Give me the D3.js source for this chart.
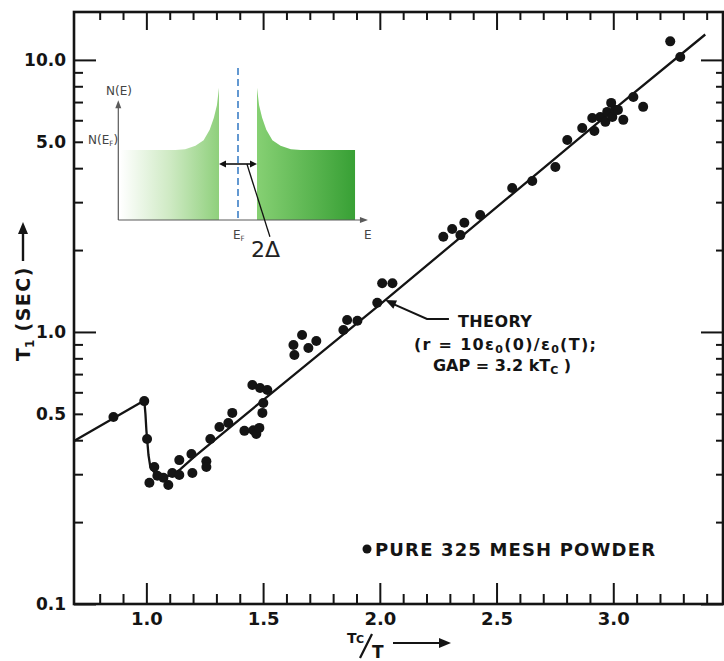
<!DOCTYPE html>
<html>
<head>
<meta charset="utf-8">
<script src="https://cdn.jsdelivr.net/npm/d3@7"></script>
<style>
  body { margin: 0; background: #fff; }
  svg { display: block; }
  text { font-family: "DejaVu Sans", "Liberation Sans", sans-serif; }
</style>
</head>
<body>
<svg id="chart" width="724" height="661"></svg>
<script>
// Measured relaxation time T1 of the pure 325 mesh powder vs reduced inverse temperature
const tcOverT = [0.859, 0.991, 1.003, 1.034, 1.013, 1.047, 1.073, 1.094, 1.111, 1.141,
                 1.141, 1.193, 1.197, 1.257, 1.257, 1.274, 1.313, 1.351, 1.368, 1.420,
                 1.458, 1.471, 1.484, 1.454, 1.487, 1.518, 1.501, 1.497, 1.630, 1.634,
                 1.667, 1.694, 1.728, 1.844, 1.860, 1.904, 1.989, 2.010, 2.054, 2.272,
                 2.310, 2.345, 2.362, 2.430, 2.567, 2.653, 2.752, 2.803, 2.867, 2.919,
                 2.910, 2.944, 2.966, 2.974, 2.991, 2.996, 3.009, 3.020, 3.043, 3.086,
                 3.128, 3.244, 3.287];
const t1Sec = [0.487, 0.557, 0.404, 0.319, 0.279, 0.296, 0.291, 0.274, 0.303, 0.338,
               0.298, 0.356, 0.303, 0.335, 0.319, 0.404, 0.447, 0.463, 0.504, 0.433,
               0.435, 0.422, 0.444, 0.638, 0.622, 0.612, 0.548, 0.504, 0.896, 0.823,
               0.975, 0.873, 0.926, 1.017, 1.106, 1.100, 1.280, 1.510, 1.510, 2.240,
               2.390, 2.270, 2.520, 2.690, 3.380, 3.590, 4.040, 5.080, 5.620, 5.480,
               6.120, 6.170, 5.920, 6.440, 6.950, 6.170, 6.550, 6.550, 6.020, 7.310,
               6.720, 11.70, 10.25];

// Theory curve (r = 10 eps0(0)/eps0(T); gap = 3.2 kTc)
const theoryX  = [0.690, 0.991, 0.996, 1.000, 1.009, 1.017, 1.039, 1.073, 1.111, 1.146,
                  1.201, 1.500, 2.000, 3.000, 3.394];
const theoryT1 = [0.397, 0.560, 0.500, 0.436, 0.353, 0.319, 0.301, 0.293, 0.298, 0.313,
                  0.345, 0.562, 1.260, 6.550, 12.40];

// Axis ticks and labels
const xMajorTicks = [1.0, 1.5, 2.0, 2.5, 3.0];
const xTickLabels = ["1.0", "1.5", "2.0", "2.5", "3.0"];
const yDecadeTicks = [0.1, 1, 10];
const yLabelValues = [0.1, 0.5, 1, 5, 10];
const yTickLabels = ["0.1", "0.5", "1.0", "5.0", "10.0"];

// Inset: BCS density of states N(E) around the Fermi level (E in units of Δ, N in units of N(E_F))
const dosE = [1.00, 1.11, 1.27, 1.49, 1.81, 2.24, 2.78, 3.30, 6.16];
const dosN = [1.89, 1.64, 1.46, 1.29, 1.14, 1.06, 1.01, 1.00, 1.00];

const svg = d3.select("#chart");
const plot = { left: 74, right: 723, top: 12, bottom: 604 };

const x = d3.scaleLinear().domain([0.69, 3.47]).range([plot.left, plot.right]);
const y = d3.scaleLog().domain([0.1, 15]).range([plot.bottom, plot.top]);

const ink = "#141414";

// ---------- Inset drawn first (behind the data) ----------
const iE = d3.scaleLinear().domain([0, 1]).range([238, 257]);
const iN = d3.scaleLinear().domain([0, 1]).range([220, 150]);
const inset = svg.append("g");
const defs = svg.append("defs");

const gL = defs.append("linearGradient").attr("id", "gLeft")
  .attr("gradientUnits", "userSpaceOnUse").attr("x1", iE(-6.2)).attr("x2", iE(-1)).attr("y1", 0).attr("y2", 0);
gL.append("stop").attr("offset", 0).attr("stop-color", "#ffffff");
gL.append("stop").attr("offset", 0.5).attr("stop-color", "#cfeac4");
gL.append("stop").attr("offset", 1).attr("stop-color", "#8fd07c");
const gR = defs.append("linearGradient").attr("id", "gRight")
  .attr("gradientUnits", "userSpaceOnUse").attr("x1", iE(1)).attr("x2", iE(6.16)).attr("y1", 0).attr("y2", 0);
gR.append("stop").attr("offset", 0).attr("stop-color", "#86d073");
gR.append("stop").attr("offset", 1).attr("stop-color", "#38a035");

const dosArea = d3.area().x(d => iE(d[0])).y0(iN(0)).y1(d => iN(d[1]));
const rightFill = dosE.map((e, i) => [e, dosN[i]]);
const leftFill = dosE.map((e, i) => [-e, dosN[i]]).reverse();
inset.append("path").attr("d", dosArea(leftFill)).attr("fill", "url(#gLeft)");
inset.append("path").attr("d", dosArea(rightFill)).attr("fill", "url(#gRight)");

// inset axes
const axCol = "#5a5a5a";
inset.append("line").attr("x1", iE(-6.3)).attr("x2", iE(-6.3)).attr("y1", iN(0)).attr("y2", iN(1.71) + 4)
  .attr("stroke", axCol).attr("stroke-width", 1.2);
inset.append("path").attr("d", `M${iE(-6.3)},${iN(1.71)} l-3,8 l6,0 z`).attr("fill", axCol);
inset.append("line").attr("x1", iE(-6.3)).attr("x2", iE(6.84) - 4).attr("y1", iN(0)).attr("y2", iN(0))
  .attr("stroke", axCol).attr("stroke-width", 1.2);
inset.append("path").attr("d", `M${iE(6.84)},${iN(0)} l-8,-3 l0,6 z`).attr("fill", axCol);

// Fermi level
inset.append("line").attr("x1", iE(0)).attr("x2", iE(0)).attr("y1", iN(2.17)).attr("y2", iN(0.03))
  .attr("stroke", "#3c7fc6").attr("stroke-width", 1.6).attr("stroke-dasharray", "7,4");

// gap 2Δ double arrow and leader
inset.append("line").attr("x1", iE(-1) + 5).attr("x2", iE(1) - 5).attr("y1", iN(0.8)).attr("y2", iN(0.8))
  .attr("stroke", "#111").attr("stroke-width", 1.6);
inset.append("path").attr("d", `M${iE(-1)},${iN(0.8)} l7,-3.5 l0,7 z`).attr("fill", "#111");
inset.append("path").attr("d", `M${iE(1)},${iN(0.8)} l-7,-3.5 l0,7 z`).attr("fill", "#111");
inset.append("line").attr("x1", iE(0.47)).attr("y1", iN(0.8)).attr("x2", iE(1.68)).attr("y2", iN(-0.24))
  .attr("stroke", "#111").attr("stroke-width", 1.3);

const insetText = (tx, ty, parts, size) => {
  const t = inset.append("text").attr("x", tx).attr("y", ty).attr("font-size", size)
    .attr("fill", "#444")
    .attr("font-family", "'DejaVu Sans Condensed','DejaVu Sans',sans-serif");
  parts.forEach(p => {
    const s = t.append("tspan").text(p.t);
    if (p.sub) s.attr("font-size", size * 0.6).attr("dy", 2);
    if (p.back) s.attr("dy", -2);
  });
  return t;
};
insetText(106, 95, [{ t: "N(E)" }], 12);
insetText(88, 144, [{ t: "N(E" }, { t: "F", sub: true }, { t: ")", back: true }], 12);
insetText(233, 239, [{ t: "E" }, { t: "F", sub: true }], 12);
insetText(364, 239, [{ t: "E" }], 12);
inset.append("text").attr("x", 251).attr("y", 257).attr("font-size", 22)
  .attr("font-family", "'Liberation Serif','DejaVu Serif',serif").attr("fill", "#222").text("2Δ");

// ---------- Frame and axes ----------
svg.append("rect").attr("x", plot.left).attr("y", plot.top)
  .attr("width", plot.right - plot.left).attr("height", plot.bottom - plot.top)
  .attr("fill", "none").attr("stroke", ink).attr("stroke-width", 2.6);

const xMinor = d3.range(8, 35).map(i => i / 10).filter(v => xMajorTicks.indexOf(v) < 0);
const yMinor = [];
yDecadeTicks.forEach(d => { for (let k = 2; k <= 9; k++) { const v = d * k; if (v < 15) yMinor.push(v); } });

function styleAxis(g) {
  g.select(".domain").remove();
  g.selectAll(".tick line").attr("stroke", ink).attr("stroke-width", 2);
}

// bottom
svg.append("g").attr("transform", `translate(0,${plot.bottom})`)
  .call(d3.axisBottom(x).tickValues(xMinor).tickSizeInner(-10).tickFormat(""))
  .call(styleAxis);
svg.append("g").attr("transform", `translate(0,${plot.bottom})`)
  .call(d3.axisBottom(x).tickValues(xMajorTicks).tickSizeInner(-21).tickPadding(8)
    .tickFormat((d, i) => xTickLabels[i]))
  .call(styleAxis)
  .selectAll("text").attr("font-size", 18).attr("font-weight", "bold").attr("fill", ink);
// top
svg.append("g").attr("transform", `translate(0,${plot.top})`)
  .call(d3.axisTop(x).tickValues(xMinor).tickSizeInner(-8).tickFormat(""))
  .call(styleAxis);
svg.append("g").attr("transform", `translate(0,${plot.top})`)
  .call(d3.axisTop(x).tickValues(xMajorTicks).tickSizeInner(-18).tickFormat(""))
  .call(styleAxis);
// left
svg.append("g").attr("transform", `translate(${plot.left},0)`)
  .call(d3.axisLeft(y).tickValues(yMinor).tickSizeInner(-9).tickFormat(""))
  .call(styleAxis);
svg.append("g").attr("transform", `translate(${plot.left},0)`)
  .call(d3.axisLeft(y).tickValues(yDecadeTicks).tickSizeInner(-22).tickFormat(""))
  .call(styleAxis);
svg.append("g").attr("transform", `translate(${plot.left},0)`)
  .call(d3.axisLeft(y).tickValues(yLabelValues).tickSize(0).tickPadding(8)
    .tickFormat((d, i) => yTickLabels[i]))
  .call(styleAxis)
  .selectAll("text").attr("font-size", 17).attr("font-weight", "bold").attr("fill", ink);
// right
svg.append("g").attr("transform", `translate(${plot.right},0)`)
  .call(d3.axisRight(y).tickValues(yMinor).tickSizeInner(-7).tickFormat(""))
  .call(styleAxis);
svg.append("g").attr("transform", `translate(${plot.right},0)`)
  .call(d3.axisRight(y).tickValues(yDecadeTicks).tickSizeInner(-22).tickFormat(""))
  .call(styleAxis);

// ---------- Theory curve and data ----------
const theoryLine = d3.line().x(d => x(d[0])).y(d => y(d[1]));
svg.append("path").datum(theoryX.map((v, i) => [v, theoryT1[i]]))
  .attr("d", theoryLine).attr("fill", "none").attr("stroke", ink)
  .attr("stroke-width", 2.3).attr("stroke-linejoin", "round");

svg.append("g").selectAll("circle")
  .data(tcOverT.map((v, i) => [v, t1Sec[i]]))
  .join("circle")
  .attr("cx", d => x(d[0])).attr("cy", d => y(d[1])).attr("r", 5).attr("fill", ink);

// ---------- Theory annotation ----------
const tip = [2.023, 1.31], elbow = [2.202, 1.116], tail = [2.296, 1.116];
svg.append("path")
  .attr("d", `M${x(tail[0])},${y(tail[1])} L${x(elbow[0])},${y(elbow[1])} L${x(tip[0]) + 6},${y(tip[1]) + 3}`)
  .attr("fill", "none").attr("stroke", ink).attr("stroke-width", 2);
{
  const tx = x(tip[0]), ty = y(tip[1]);
  const ang = Math.atan2(y(elbow[1]) - ty, x(elbow[0]) - tx);
  const L = 11, hw = 4.5;
  const bx = tx + L * Math.cos(ang), by = ty + L * Math.sin(ang);
  const px = -Math.sin(ang) * hw, py = Math.cos(ang) * hw;
  svg.append("path").attr("d", `M${tx},${ty} L${bx + px},${by + py} L${bx - px},${by - py} Z`).attr("fill", ink);
}
const ax0 = x(tail[0]), ay0 = y(tail[1]);
const ann = svg.append("g").attr("fill", ink).attr("font-weight", "bold").attr("font-size", 16);
ann.append("text").attr("x", ax0 + 9).attr("y", ay0 + 8).attr("textLength", 74).text("THEORY");
const l2 = ann.append("text").attr("x", ax0 - 35).attr("y", ay0 + 31)
  .attr("textLength", 182).attr("lengthAdjust", "spacing");
l2.append("tspan").text("(r = 10ε");
l2.append("tspan").attr("font-size", 11).attr("dy", 3).text("0");
l2.append("tspan").attr("dy", -3).text("(0)/ε");
l2.append("tspan").attr("font-size", 11).attr("dy", 3).text("0");
l2.append("tspan").attr("dy", -3).text("(T);");
const l3 = ann.append("text").attr("x", ax0 - 16).attr("y", ay0 + 52);
l3.append("tspan").text("GAP = 3.2 kT");
l3.append("tspan").attr("font-size", 11).attr("dy", 3).text("C");
l3.append("tspan").attr("dy", -3).text(" )");

// ---------- Legend ----------
svg.append("circle").attr("cx", 367).attr("cy", 549).attr("r", 4.5).attr("fill", ink);
svg.append("text").attr("x", 375).attr("y", 556).attr("font-size", 18).attr("font-weight", "bold")
  .attr("fill", ink).attr("textLength", 280).text("PURE 325 MESH POWDER");

// ---------- Axis titles ----------
const yt = svg.append("g").attr("transform", "translate(30,361) rotate(-90)");
const ytText = yt.append("text").attr("x", 0).attr("y", 0).attr("font-size", 19)
  .attr("font-weight", "bold").attr("fill", ink);
ytText.append("tspan").text("T");
ytText.append("tspan").attr("font-size", 12).attr("dy", 4).text("1");
ytText.append("tspan").attr("dy", -4).attr("letter-spacing", 1.5).text(" (SEC)");
yt.append("line").attr("x1", 100).attr("x2", 130).attr("y1", -7).attr("y2", -7)
  .attr("stroke", ink).attr("stroke-width", 2.4);
yt.append("path").attr("d", "M139,-7 L127,-12 L127,-2 Z").attr("fill", ink);

const xt = svg.append("g").attr("fill", ink).attr("font-weight", "bold");
xt.append("text").attr("x", 347).attr("y", 643).attr("font-size", 14).text("T");
xt.append("text").attr("x", 356).attr("y", 643).attr("font-size", 11).text("C");
xt.append("line").attr("x1", 360).attr("y1", 658).attr("x2", 372).attr("y2", 634)
  .attr("stroke", ink).attr("stroke-width", 2.2);
xt.append("text").attr("x", 372).attr("y", 658).attr("font-size", 17).text("T");
xt.append("line").attr("x1", 393).attr("x2", 441).attr("y1", 643).attr("y2", 643)
  .attr("stroke", ink).attr("stroke-width", 2.2);
xt.append("path").attr("d", "M451,643 L439,638 L439,648 Z").attr("fill", ink);
</script>
</body>
</html>
